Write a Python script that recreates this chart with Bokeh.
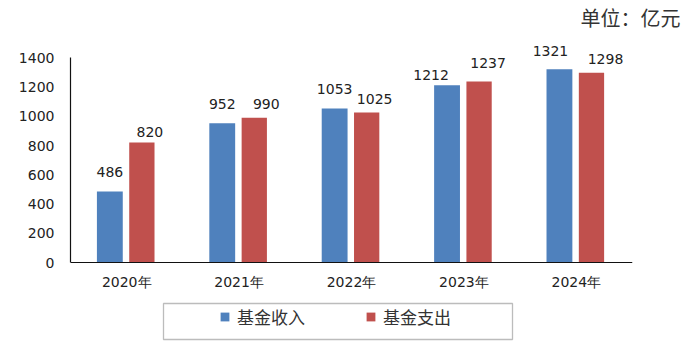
from bokeh.plotting import figure
from bokeh.models import (ColumnDataSource, FactorRange, Range1d, LabelSet, Legend, LegendItem,
                          Title, BoxAnnotation)
from bokeh.core.properties import value
from bokeh.transform import dodge
from bokeh.embed import file_html
from bokeh.resources import INLINE

years = ["2020年", "2021年", "2022年", "2023年", "2024年"]
income = [486, 952, 1053, 1212, 1321]
expense = [820, 990, 1025, 1237, 1298]
series_names = ["基金收入", "基金支出"]
unit_text = "单位：亿元"
y_ticks = [0, 200, 400, 600, 800, 1000, 1200, 1400]

# pixel nudges of the value labels, as placed in the original chart
income_lbl_dx = [0, 0, 0, -16, -9]
income_lbl_dy = [14, 14, 15, 5, 13]
expense_lbl_dx = [8, 12, 8, 9, 14]
expense_lbl_dy = [5.5, 8.5, 9, 14, 8.5]

BLUE = "#4F81BD"
RED = "#C0504D"
FONT = "DejaVu Sans"
CJK = "Noto Sans CJK SC"

src = ColumnDataSource(dict(year=years, income=income, expense=expense,
                            income_lbl=[str(v) for v in income],
                            expense_lbl=[str(v) for v in expense],
                            income_dx=income_lbl_dx, income_dy=income_lbl_dy,
                            expense_dx=expense_lbl_dx, expense_dy=expense_lbl_dy))

# frame spans y 31..345 (px); value 0 sits at 262 px, 1400 at ~57 px
p = figure(width=693, height=359, x_range=FactorRange(factors=years, range_padding=0),
           y_range=Range1d(-567.5, 1579.5), output_backend="svg", toolbar_location=None,
           min_border_left=70, min_border_right=61, min_border_top=31, min_border_bottom=14)
p.outline_line_color = None
p.xgrid.grid_line_color = None
p.ygrid.grid_line_color = None

p.add_layout(Title(text=unit_text, align="right", offset=-48, standoff=0,
                   text_font=CJK, text_font_size="20px", text_font_style="normal",
                   text_color="#333333"), "above")

r1 = p.vbar(x=dodge("year", -0.15, range=p.x_range), top="income", width=0.23, source=src,
            fill_color=BLUE, line_color=None)
r2 = p.vbar(x=dodge("year", 0.135, range=p.x_range), top="expense", width=0.225, source=src,
            fill_color=RED, line_color=None)

for col, off in (("income", -0.15), ("expense", 0.135)):
    p.add_layout(LabelSet(x=dodge("year", off, range=p.x_range), y=col, text=col + "_lbl",
                          source=src, x_offset=col + "_dx", y_offset=col + "_dy",
                          text_align="center", text_baseline="alphabetic",
                          text_font=value(FONT), text_font_size="14px", text_color="#222222"))

for ax in (p.xaxis[0], p.yaxis[0]):
    ax.axis_line_color = "#111111"
    ax.axis_line_width = 1.2
    ax.major_tick_line_color = None
    ax.minor_tick_line_color = None
    ax.major_label_text_font = FONT
    ax.major_label_text_font_size = "14px"
    ax.major_label_text_color = "#222222"
    ax.major_label_standoff = 10
p.yaxis.ticker = y_ticks
p.yaxis.bounds = (0, 1400)
p.xaxis.fixed_location = 0
p.xaxis.major_label_standoff = 5

legend = Legend(items=[LegendItem(label=series_names[0], renderers=[r1]),
                       LegendItem(label=series_names[1], renderers=[r2])],
                orientation="horizontal", location=(149, 16), padding=0, margin=0,
                spacing=58, border_line_alpha=0, background_fill_alpha=0,
                glyph_width=11, glyph_height=11, label_standoff=7,
                label_text_font=CJK, label_text_font_size="17px", label_text_color="#333333",
                label_width=70, label_height=20)
p.add_layout(legend, "center")

p.add_layout(BoxAnnotation(left=93, right=442, bottom=6, top=42,
                           left_units="screen", right_units="screen",
                           top_units="screen", bottom_units="screen",
                           fill_alpha=0, line_color="#222222", line_width=1.3))

open("out.html", "w").write(file_html(p, INLINE))
